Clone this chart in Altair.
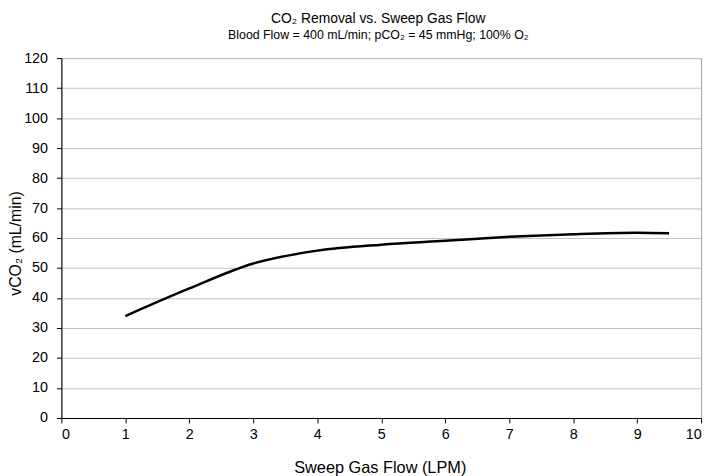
import altair as alt
import pandas as pd

sweep_flow = [1, 2, 3, 4, 5, 6, 7, 8, 9, 9.5]
vco2 = [34.0, 43.2, 51.5, 55.8, 57.8, 59.1, 60.4, 61.3, 61.8, 61.6]

df = pd.DataFrame({"flow": sweep_flow, "vco2": vco2})

FONT = "Liberation Sans"

chart = alt.Chart(df).mark_line(
    color="black", strokeWidth=2.5, interpolate="monotone"
).encode(
    x=alt.X("flow:Q",
            scale=alt.Scale(domain=[0, 10], nice=False, zero=False),
            axis=alt.Axis(values=list(range(0, 11)), title="Sweep Gas Flow (LPM)",
                          grid=False, domainColor="black", tickColor="black",
                          tickSize=5, labelPadding=5, labelFontSize=14.5,
                          labelColor="black", titleFontSize=16.5, titleFontWeight="normal",
                          titleColor="black", titleX=322, titleY=55,
                          titleBaseline="alphabetic", labelFont=FONT, titleFont=FONT)),
    y=alt.Y("vco2:Q",
            scale=alt.Scale(domain=[0, 120], nice=False),
            axis=alt.Axis(values=list(range(0, 121, 10)), title="vCO₂ (mL/min)",
                          grid=True, gridColor="#c0c0c0", gridWidth=1,
                          domainColor="black", tickColor="black", tickSize=5,
                          labelPadding=9, labelFontSize=14.5, labelColor="black",
                          titleFontSize=16, titleFontWeight="normal", titleColor="black",
                          titleX=-46, titleY=187, titleBaseline="middle",
                          labelFont=FONT, titleFont=FONT)),
).properties(
    width=647,
    height=364,
    autosize=alt.AutoSizeParams(type="none"),
    padding={"left": 54, "top": 48, "right": 10, "bottom": 56},
    title=alt.TitleParams(
        text="CO₂ Removal vs. Sweep Gas Flow",
        subtitle="Blood Flow = 400 mL/min; pCO₂ = 45 mmHg; 100% O₂",
        anchor="middle", frame="group", font=FONT, fontSize=14,
        fontWeight="normal", color="black", subtitleFont=FONT,
        subtitleFontSize=12.5, subtitleColor="black", subtitlePadding=3,
        offset=9, dx=-3,
    ),
).configure_view(stroke="#a0a0a0", strokeWidth=1)

chart.save("out.html", embed_options={"renderer": "svg", "actions": False})
